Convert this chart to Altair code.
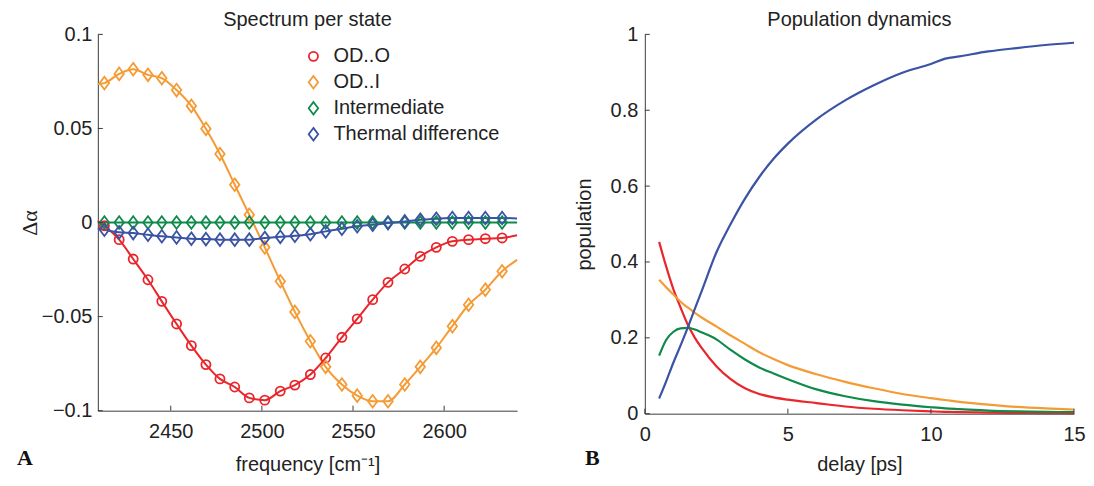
import altair as alt
import pandas as pd

# ---------------- data ----------------
states = ["OD..O", "OD..I", "Intermediate", "Thermal difference"]
colors = ["#e8262b", "#f59b35", "#0e8a4b", "#3a53a4"]

# Panel A: spectrum per state (marker positions)
freq = [2413.6, 2421.7, 2429.4, 2437.5, 2445.1, 2453.2, 2461.3, 2469.3, 2477.0,
        2485.1, 2493.1, 2501.6, 2510.1, 2518.1, 2526.6, 2535.0, 2543.9, 2552.3,
        2560.8, 2569.2, 2578.4, 2586.9, 2595.7, 2604.5, 2613.4, 2622.6, 2631.8]
od_o = [-0.0017, -0.0091, -0.0194, -0.0304, -0.0419, -0.0539, -0.0654, -0.0755,
        -0.0831, -0.0874, -0.0932, -0.0944, -0.0896, -0.0864, -0.0808, -0.0720,
        -0.0610, -0.0512, -0.0410, -0.0318, -0.0247, -0.0180, -0.0132, -0.0100,
        -0.0091, -0.0086, -0.0082]
od_i = [0.0741, 0.0790, 0.0815, 0.0785, 0.0767, 0.0704, 0.0620, 0.0498, 0.0364,
        0.0201, 0.0041, -0.0132, -0.0312, -0.0475, -0.0631, -0.0767, -0.0861,
        -0.0920, -0.0950, -0.0950, -0.0861, -0.0767, -0.0666, -0.0551, -0.0437,
        -0.0357, -0.0259]
intermediate = [0.0, 0.0, 0.0, 0.0, 0.0, 0.0, 0.0, 0.0, 0.0, 0.0, 0.0, 0.0, 0.0,
                0.0, 0.0, 0.0, 0.0, 0.0, 0.0, 0.0, 0.0, 0.0, 0.0, 0.0, 0.0, 0.0, 0.0]
thermal = [-0.0038, -0.0052, -0.0056, -0.0065, -0.0073, -0.0079, -0.0086, -0.0088,
           -0.0091, -0.0091, -0.0091, -0.0082, -0.0076, -0.0070, -0.0062, -0.0047,
           -0.0033, -0.0020, -0.0012, -0.0003, 0.0006, 0.0015, 0.0020, 0.0024,
           0.0024, 0.0024, 0.0024]

# line end points (curves run from axis edge to axis edge)
freq_ends = [2410, 2640]
od_o_ends = [0.001, -0.0068]
od_i_ends = [0.0736, -0.0198]
intermediate_ends = [0.0, 0.0]
thermal_ends = [-0.003, 0.0022]

# Panel B: population dynamics
delay = [0.5, 0.75, 1.0, 1.25, 1.5, 1.75, 2.0, 2.5, 3.0, 3.5, 4.0, 4.5, 5.0,
         6.0, 7.0, 8.0, 9.0, 10.0, 10.5, 11.0, 12.0, 13.0, 14.0, 15.0]
pop_od_o = [0.453, 0.387, 0.328, 0.280, 0.235, 0.200, 0.172, 0.125, 0.091, 0.067,
            0.052, 0.043, 0.037, 0.028, 0.019, 0.013, 0.009, 0.006, 0.005, 0.004,
            0.003, 0.002, 0.0015, 0.001]
pop_od_i = [0.353, 0.333, 0.314, 0.295, 0.280, 0.266, 0.253, 0.230, 0.206, 0.184,
            0.162, 0.144, 0.128, 0.104, 0.084, 0.067, 0.052, 0.041, 0.036, 0.031,
            0.024, 0.018, 0.014, 0.011]
pop_inter = [0.153, 0.195, 0.216, 0.225, 0.226, 0.222, 0.214, 0.196, 0.168, 0.143,
             0.122, 0.106, 0.091, 0.064, 0.046, 0.033, 0.024, 0.017, 0.014, 0.012,
             0.008, 0.006, 0.005, 0.004]
pop_thermal = [0.040, 0.086, 0.135, 0.180, 0.227, 0.277, 0.326, 0.425, 0.500, 0.567,
               0.624, 0.672, 0.712, 0.776, 0.826, 0.866, 0.899, 0.922, 0.936, 0.942,
               0.955, 0.964, 0.972, 0.978]

freq_ticks = [2450, 2500, 2550, 2600]
da_ticks = [-0.1, -0.05, 0, 0.05, 0.1]
delay_ticks = [0, 5, 10, 15]
pop_ticks = [0, 0.2, 0.4, 0.6, 0.8, 1]
panel_letters = ["A", "B"]

# ---------------- tables ----------------
spec_series = [od_o, od_i, intermediate, thermal]
spec_ends = [od_o_ends, od_i_ends, intermediate_ends, thermal_ends]
spec_pts = pd.DataFrame([
    {"freq": f, "value": v, "state": s}
    for s, vals in zip(states, spec_series) for f, v in zip(freq, vals)
])
spec_line = pd.concat([
    spec_pts,
    pd.DataFrame([
        {"freq": f, "value": v, "state": s}
        for s, vals in zip(states, spec_ends) for f, v in zip(freq_ends, vals)
    ]),
]).sort_values(["state", "freq"])

pop_series = [pop_od_o, pop_od_i, pop_inter, pop_thermal]
pop_df = pd.DataFrame([
    {"delay": t, "pop": p, "state": s}
    for s, vals in zip(states, pop_series) for t, p in zip(delay, vals)
])

# ---------------- styling ----------------
FONT = "Liberation Sans"
AXC = "#3c3c3c"
WA, HA = 420, 377
WB, HB = 430, 380
TICK = 5

circle_path = "M0.72,0A0.72,0.72 0 1,1 -0.72,0A0.72,0.72 0 1,1 0.72,0Z"
diamond_path = "M0,-1L0.75,0L0,1L-0.75,0Z"

leg = alt.Legend(orient="none", legendX=206, legendY=12, title=None,
                 labelFont=FONT, labelFontSize=20, labelColor="#222",
                 labelLimit=400,
                 symbolStrokeWidth=1.8, symbolSize=160, rowPadding=6,
                 padding=0, labelOffset=10)

axis_xA = alt.Axis(values=freq_ticks, format="d", labelPadding=11, labelFlush=False,
                   title="frequency [cm⁻¹]", titleX=WA / 2, titleY=60,
                   titleAlign="center", titleBaseline="alphabetic")
axis_yA = alt.Axis(values=da_ticks, format="~g", labelPadding=6,
                   title="Δα", titleFont="Liberation Serif", titleFontSize=22,
                   titleAngle=270, titleX=-68, titleY=HA / 2,
                   titleAlign="center", titleBaseline="middle")
xA = alt.X("freq:Q", scale=alt.Scale(domain=[2410, 2640], nice=False, zero=False),
           axis=axis_xA)
yA = alt.Y("value:Q", scale=alt.Scale(domain=[-0.1, 0.1], nice=False), axis=axis_yA)
cA = alt.Color("state:N", scale=alt.Scale(domain=states, range=colors), legend=leg)

linesA = alt.Chart(spec_line).mark_line(strokeWidth=2, interpolate="monotone").encode(
    x=xA, y=yA, color=cA, detail="state:N")
ptsA = alt.Chart(spec_pts).mark_point(filled=False, strokeWidth=1.8, size=160,
                                      opacity=1).encode(
    x=xA, y=yA, color=cA,
    shape=alt.Shape("state:N", scale=alt.Scale(
        domain=states, range=[circle_path, diamond_path, diamond_path, diamond_path]),
        legend=leg))
xticksA = alt.Chart(pd.DataFrame({"freq": freq_ticks})).mark_rule(
    color=AXC, strokeWidth=1).encode(x=xA, y=alt.value(HA), y2=alt.value(HA - TICK))
yticksA = alt.Chart(pd.DataFrame({"value": da_ticks})).mark_rule(
    color=AXC, strokeWidth=1).encode(y=yA, x=alt.value(0), x2=alt.value(TICK))
letterA = alt.Chart(pd.DataFrame({"letter": [panel_letters[0]]})).mark_text(
    font="Liberation Serif", fontSize=22, fontWeight="bold", align="left",
    baseline="alphabetic", color="#111").encode(
    text="letter:N", x=alt.value(-81), y=alt.value(HA + 54))

panelA = alt.layer(linesA, ptsA, xticksA, yticksA, letterA).properties(
    width=WA, height=HA,
    title=alt.TitleParams("Spectrum per state", offset=-6))

axis_xB = alt.Axis(values=delay_ticks, format="d", labelPadding=11, labelFlush=False,
                   title="delay [ps]", titleX=WB / 2, titleY=57,
                   titleAlign="center", titleBaseline="alphabetic")
axis_yB = alt.Axis(values=pop_ticks, format="~g", labelPadding=7,
                   title="population", titleAngle=270, titleX=-60, titleY=HB / 2,
                   titleAlign="center", titleBaseline="middle")
xB = alt.X("delay:Q", scale=alt.Scale(domain=[0, 15], nice=False), axis=axis_xB)
yB = alt.Y("pop:Q", scale=alt.Scale(domain=[0, 1], nice=False), axis=axis_yB)

linesB = alt.Chart(pop_df).mark_line(strokeWidth=2.2, interpolate="monotone").encode(
    x=xB, y=yB,
    color=alt.Color("state:N", scale=alt.Scale(domain=states, range=colors),
                    legend=None),
    detail="state:N")
xticksB = alt.Chart(pd.DataFrame({"delay": delay_ticks})).mark_rule(
    color=AXC, strokeWidth=1).encode(x=xB, y=alt.value(HB), y2=alt.value(HB - TICK))
yticksB = alt.Chart(pd.DataFrame({"pop": pop_ticks})).mark_rule(
    color=AXC, strokeWidth=1).encode(y=yB, x=alt.value(0), x2=alt.value(TICK))
letterB = alt.Chart(pd.DataFrame({"letter": [panel_letters[1]]})).mark_text(
    font="Liberation Serif", fontSize=22, fontWeight="bold", align="left",
    baseline="alphabetic", color="#111").encode(
    text="letter:N", x=alt.value(-60), y=alt.value(HB + 51))

panelB = alt.layer(linesB, xticksB, yticksB, letterB).properties(
    width=WB, height=HB,
    title=alt.TitleParams("Population dynamics", offset=-6))

chart = alt.hconcat(panelA, panelB, spacing=54).resolve_scale(
    color="independent", shape="independent"
).properties(
    padding={"left": 9, "top": 2, "right": 0, "bottom": 0},
    background="white",
).configure_view(stroke=None).configure_axis(
    grid=False, ticks=False, domainColor=AXC, domainWidth=1,
    labelFont=FONT, labelFontSize=20, labelColor="#222",
    titleFont=FONT, titleFontSize=20, titleFontWeight="normal", titleColor="#222",
).configure_title(
    font=FONT, fontSize=20, fontWeight="normal", color="#222", anchor="middle"
)

chart.save("out.html", embed_options={"renderer": "svg", "actions": False})
